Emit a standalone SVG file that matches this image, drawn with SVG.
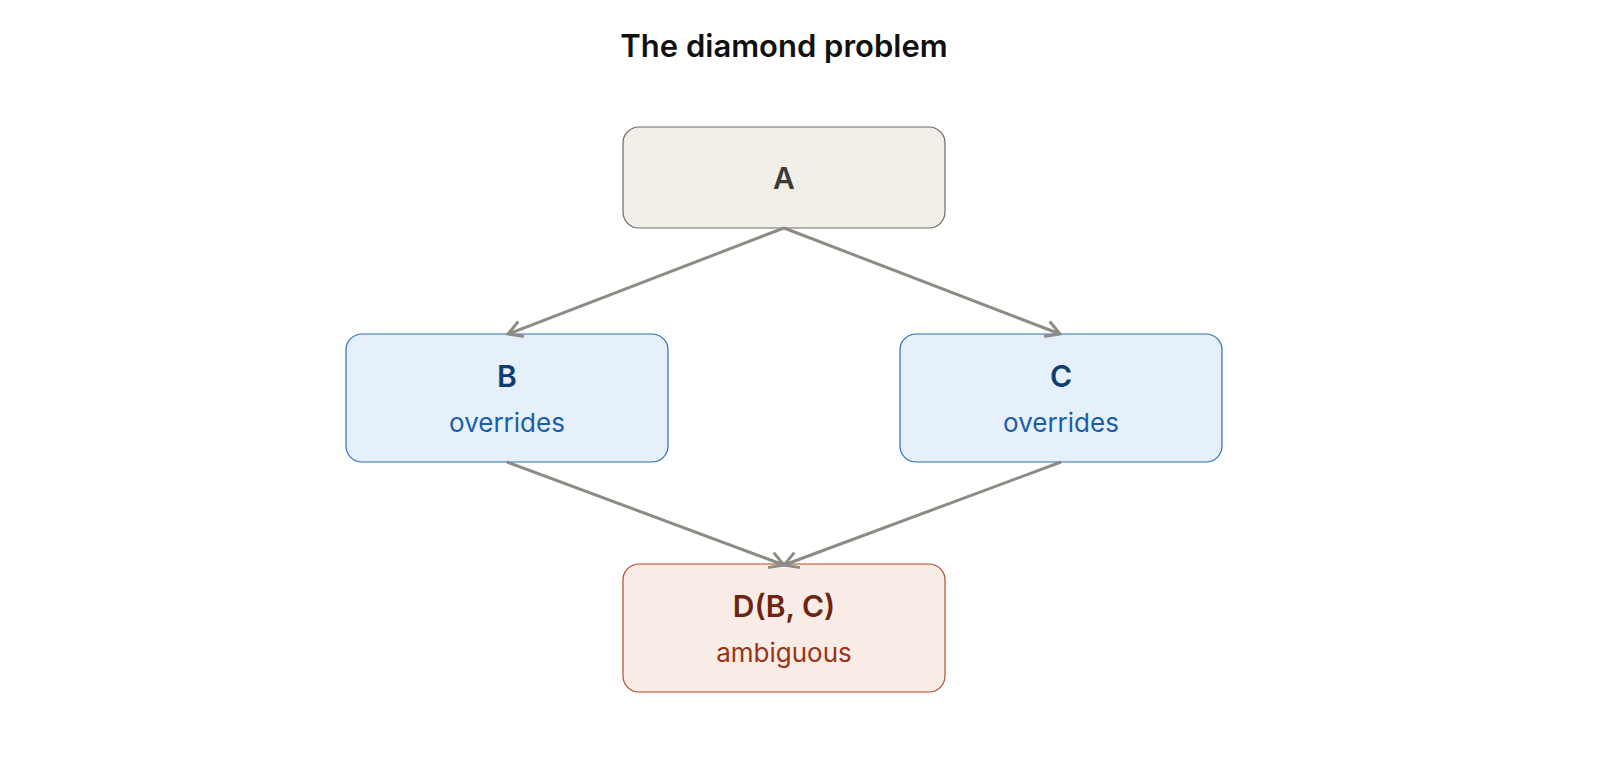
<svg xmlns="http://www.w3.org/2000/svg" width="1600" height="776" viewBox="0 0 1600 776">
<style>
text{font-family:Inter,"Noto Sans",sans-serif;text-anchor:middle}
.t{font-size:31px;font-weight:600;fill:#111}
.h{font-size:30px;font-weight:600}
.s{font-size:26px}
.e{fill:none;stroke:#8c8b84;stroke-width:3}
</style>
<defs><marker id="ar" viewBox="0 0 20 20" refX="18" refY="10" markerWidth="20" markerHeight="20" markerUnits="userSpaceOnUse" orient="auto"><path d="M4 2 L18 10 L4 18" fill="none" stroke="#8c8b84" stroke-width="3"/></marker></defs>
<rect width="1600" height="776" fill="#fff"/>
<text class="t" x="784" y="57">The diamond problem</text>
<g id="A"><rect x="623" y="127" width="322" height="101" rx="16" fill="#f1efe8" stroke="#6b6a66" stroke-width="1.2"/><text class="h" x="784" y="189" fill="#3c3b37">A</text></g>
<g id="B"><rect x="346" y="334" width="322" height="128" rx="16" fill="#e6f0fa" stroke="#2c6fb8" stroke-width="1.2"/><text class="h" x="507" y="387" fill="#0c3d73">B</text><text class="s" x="507" y="432" fill="#1a5ea8">overrides</text></g>
<g id="C"><rect x="900" y="334" width="322" height="128" rx="16" fill="#e6f0fa" stroke="#2c6fb8" stroke-width="1.2"/><text class="h" x="1061" y="387" fill="#0c3d73">C</text><text class="s" x="1061" y="432" fill="#1a5ea8">overrides</text></g>
<g id="D"><rect x="623" y="564" width="322" height="128" rx="16" fill="#f9ece7" stroke="#b5492a" stroke-width="1.2"/><text class="h" x="784" y="617" fill="#6e2410">D(B, C)</text><text class="s" x="784" y="662" fill="#9a3415">ambiguous</text></g>
<g id="edges">
<line class="e" x1="784" y1="228" x2="508" y2="334" marker-end="url(#ar)"/>
<line class="e" x1="784" y1="228" x2="1060" y2="334" marker-end="url(#ar)"/>
<line class="e" x1="507" y1="462" x2="784" y2="565" marker-end="url(#ar)"/>
<line class="e" x1="1061" y1="462" x2="784" y2="565" marker-end="url(#ar)"/>
</g>
</svg>
